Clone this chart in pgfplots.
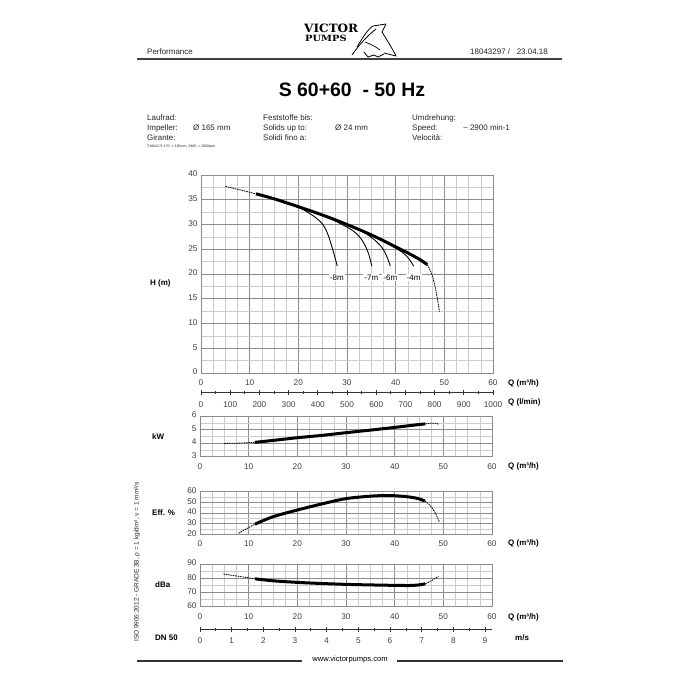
\documentclass[border=0pt]{standalone}
\usepackage{fontspec}
\setmainfont{Liberation Sans}
\newfontfamily\logofont{DejaVu Serif}
\usepackage{pgfplots}
\pgfplotsset{compat=1.18}
\begin{document}
\begin{tikzpicture}
\path[fill=white] (0,0) rectangle (700bp,-700bp);
\pgfplotsset{
  every axis/.append style={
    scale only axis, anchor=south west,
    /pgf/number format/assume math mode=true,
    /pgf/number format/1000 sep={},
    typeset ticklabels with strut,
    tick label style={font=\fontsize{8.3}{9}\selectfont, text=black!75},
  },
  chart/.style={
    width=292bp, xmin=0, xmax=60, xtick={0,10,...,60}, minor x tick num=3,
    grid=both,
    major grid style={draw=black!45, line width=0.7bp},
    minor grid style={draw=black!20, line width=0.45bp},
    axis line style={draw=black!45, line width=0.7bp},
    major tick length=0pt, minor tick length=0pt,
    xticklabel style={yshift=-2.6bp},
    clip=false,
  },
  thickc/.style={black, line width=3bp, smooth, tension=0.5},
  dashc/.style={black, line width=0.8bp, dash pattern=on 1.6bp off 0.8bp, smooth},
  thinc/.style={black, line width=0.9bp, smooth, tension=0.5},
  scalebar/.style={axis x line=bottom, axis y line=none, height=5bp, ymin=0, ymax=1,
     x axis line style={-}, axis line style={black!80, line width=0.8bp},
     tick style={black!80, line width=0.7bp},
     tick align=center, major tick length=5bp, minor tick length=3bp, minor x tick num=1,
     xticklabel style={yshift=-2.6bp}},
}
% ---------------- main H chart
\begin{axis}[chart, at={(201bp,-373bp)}, height=198bp,
  ymin=0, ymax=40, ytick={0,5,...,40}, minor y tick num=1]
\addplot[dashc] coordinates {(5,37.7) (8,37.0) (11.3,36.2)};
\addplot[thinc] coordinates {(19,33.9) (21,33.0) (23,31.8) (24.5,30.6) (25.5,29.3) (26.3,27.4) (27.2,24.5) (28.0,21.6)};
\addplot[thinc] coordinates {(26,31.5) (29,30.0) (31,28.9) (32.5,27.6) (33.6,26.0) (34.5,23.9) (35.1,21.6)};
\addplot[thinc] coordinates {(32,29.2) (34,28.1) (36,26.6) (37.3,25.2) (38.2,23.5) (38.9,21.6)};
\addplot[thinc] coordinates {(38,26.4) (40,25.2) (41.5,24.3) (42.7,23.1) (43.7,21.6)};
\addplot[thickc] coordinates {(11.3,36.2) (15,35.2) (20,33.6) (25,31.9) (30,30.0) (35,27.9) (40,25.5) (43,24.0) (45,22.9) (46.5,21.9)};
\addplot[dashc] coordinates {(46.5,21.9) (47.5,19.8) (48.3,16.5) (49,12.4)};
\node[fill=white, inner sep=1bp, font=\fontsize{8}{9}\selectfont] at (axis cs:27.9,19.3) {-8m};
\node[fill=white, inner sep=1bp, font=\fontsize{8}{9}\selectfont] at (axis cs:35.0,19.3) {-7m};
\node[fill=white, inner sep=1bp, font=\fontsize{8}{9}\selectfont] at (axis cs:38.9,19.3) {-6m};
\node[fill=white, inner sep=1bp, font=\fontsize{8}{9}\selectfont] at (axis cs:43.7,19.3) {-4m};
\end{axis}
% ---------------- l/min scale
\begin{axis}[scalebar, at={(201bp,-392.5bp)}, width=292bp, xmin=0, xmax=1000,
  xtick={0,100,...,1000}]
\end{axis}
% ---------------- kW
\begin{axis}[chart, at={(200bp,-456.7bp)}, height=40.7bp,
  ymin=3, ymax=6, ytick={3,4,5,6}, minor y tick num=1]
\addplot[dashc] coordinates {(5,3.98) (8,4.0) (11.3,4.06)};
\addplot[thickc] coordinates {(11.3,4.06) (15,4.2) (20,4.40) (25,4.57) (30,4.77) (35,4.96) (40,5.16) (44,5.33) (46.3,5.42)};
\addplot[dashc] coordinates {(46.3,5.42) (47.5,5.47) (48.3,5.47) (49,5.4)};
\end{axis}
% ---------------- Eff
\begin{axis}[chart, at={(200bp,-534.3bp)}, height=42.6bp,
  ymin=20, ymax=60, ytick={20,30,...,60}, minor y tick num=1]
\addplot[dashc] coordinates {(7.9,20.9) (10,26.3) (11.3,29.5)};
\addplot[thickc] coordinates {(11.3,29.5) (15,36.5) (20,42.8) (25,48.5) (30,53.5) (35,55.8) (38,56.4) (40,56.2) (42.5,55.3) (44.6,53.8) (46.2,51.3)};
\addplot[dashc] coordinates {(46.2,51.3) (47.3,47) (48.3,40.5) (49.2,31.5)};
\end{axis}
% ---------------- dBa
\begin{axis}[chart, at={(200bp,-606.7bp)}, height=42.7bp,
  ymin=60, ymax=90, ytick={60,70,80,90}, minor y tick num=1]
\addplot[dashc] coordinates {(4.8,83.0) (8,81.3) (11.3,79.6)};
\addplot[thickc] coordinates {(11.3,79.6) (15,78.2) (20,77.1) (25,76.3) (30,75.7) (35,75.3) (40,75.0) (43,74.9) (45,75.3) (46.3,76.1)};
\addplot[dashc] coordinates {(46.3,76.1) (47.5,78.2) (49,81.2)};
\end{axis}
% ---------------- velocity scale
\begin{axis}[scalebar, at={(200bp,-629bp)}, width=292bp, xmin=0, xmax=9.22,
  xtick={0,1,...,9}]
\end{axis}
% ---------------- decorations (pixel coordinates, y down)
\begin{scope}[x=1bp, y=-1bp]
\def\sm{\fontsize{8}{9}\selectfont}
\def\bl{\fontsize{8}{9}\selectfont\bfseries}
% logo
\node[anchor=west, inner sep=0, font=\logofont\fontsize{11.5}{12}\selectfont\bfseries, xscale=1.05] at (304,28) {VICTOR};
\node[anchor=west, inner sep=0, font=\logofont\fontsize{8.6}{9}\selectfont\bfseries, xscale=1.15] at (305,38.5) {PUMPS};
\draw[line width=0.8bp, line join=round] (357,47) .. controls (363,37) and (368,29) .. (373,26) -- (386,24) -- (382,32) .. controls (387,40) and (392,48) .. (396,56) -- (384,53);
\draw[line width=0.8bp] (376,29) .. controls (367,36) and (359,45) .. (352,55);
\draw[line width=0.8bp] (364,52) -- (368,57) -- (374,55) -- (378,57) -- (384,54);
\draw[line width=0.7bp] (365,42) .. controls (370,44) and (375,46) .. (380,50);
% header
\node[anchor=west, inner sep=0, font=\sm, text=black!85] at (147,52) {Performance};
\node[anchor=east, inner sep=0, font=\sm, text=black!85] at (548,52) {18043297 /\ \ \ 23.04.18};
\draw[black!75, line width=1.3bp] (137,59) -- (562,59);
\node[inner sep=0, font=\fontsize{19.5}{21}\selectfont\bfseries] at (352,90) {S 60+60\ \ - 50 Hz};
% info block
\begin{scope}[every node/.style={anchor=west, inner sep=0, font=\sm, text=black!85}]
\node at (147,118) {Laufrad:};
\node at (147,128) {Impeller:};
\node at (147,138) {Girante:};
\node at (193,128) {Ø 165 mm};
\node at (263,118) {Feststoffe bis:};
\node at (263,128) {Solids up to:};
\node at (263,138) {Solidi fino a:};
\node at (335,128) {Ø 24 mm};
\node at (412,118) {Umdrehung:};
\node at (412,128) {Speed:};
\node at (412,138) {Velocità:};
\node at (463,128) {\textasciitilde\ 2900 min-1};
\node[font=\fontsize{3.5}{4}\selectfont] at (147,147) {T1684171 170 -> 165mm; 2900 -> 2900rpm};
\end{scope}
% axis labels
\begin{scope}[every node/.style={anchor=west, inner sep=0, font=\bl}]
\node at (150,283) {H (m)};
\node at (152,437) {kW};
\node at (152,513) {Eff. \%};
\node at (155,585) {dBa};
\node at (155,638) {DN 50};
\node at (515,638) {m/s};
\node at (508,383) {Q (m³/h)};
\node at (508,402) {Q (l/min)};
\node at (508,466.5) {Q (m³/h)};
\node at (508,543.5) {Q (m³/h)};
\node at (508,617) {Q (m³/h)};
\end{scope}
% side text
\node[rotate=90, inner sep=0, font=\fontsize{6.5}{7}\selectfont, text=black!85] at (137,562) {ISO 9906:2012 - GRADE 3B, ρ = 1 kg/dm³, ν = 1 mm²/s};
% footer
\draw[black!80, line width=1.2bp] (137,661) -- (302,661);
\draw[black!80, line width=1.2bp] (397,661) -- (563,661);
\node[inner sep=0, font=\fontsize{7.6}{8}\selectfont] at (350,660) {www.victorpumps.com};
\end{scope}
\end{tikzpicture}
\end{document}
